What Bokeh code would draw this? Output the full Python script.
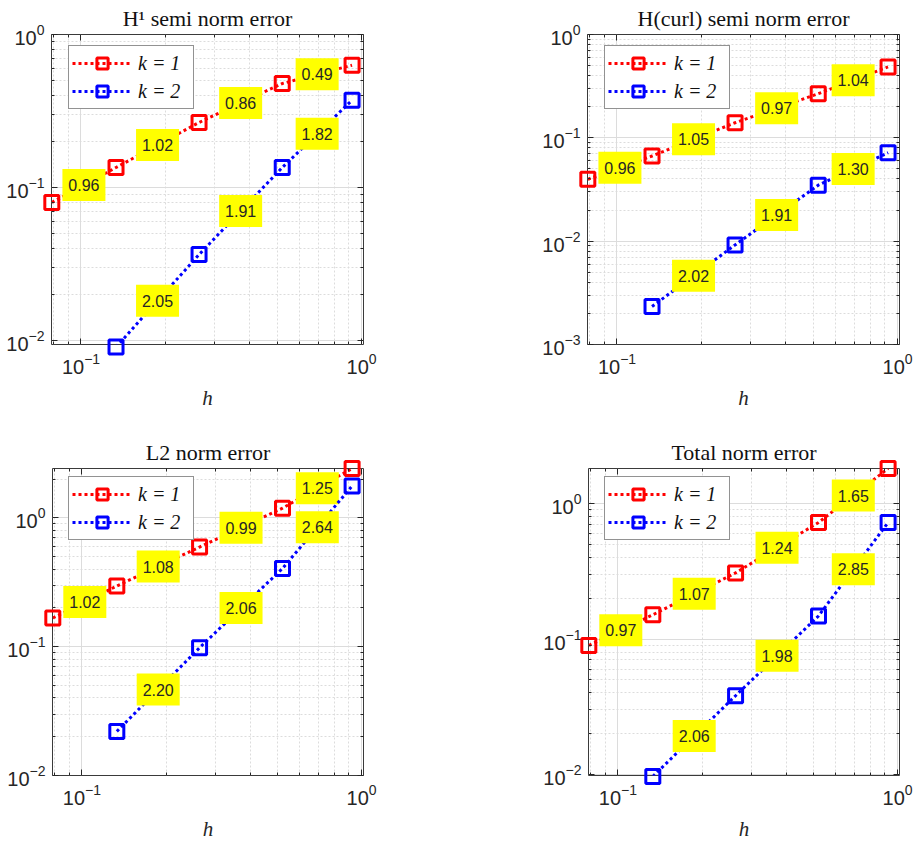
import numpy as np
from bokeh.plotting import figure
from bokeh.models import (LogAxis, FixedTicker, Legend, LegendItem, Range1d,
                          ColumnDataSource)
from bokeh.layouts import column, row
from bokeh.embed import file_html
from bokeh.resources import INLINE

# mesh sizes (shared by all four error plots)
h = [0.0787, 0.1333, 0.2635, 0.5215, 0.925]

# H^1 semi norm error
h1_k1 = [0.0798, 0.135, 0.266, 0.478, 0.63]
h1_k2 = [0.00904, 0.0364, 0.135, 0.372]
h1_rate_k1 = ["0.96", "1.02", "0.86", "0.49"]
h1_rate_k2 = ["2.05", "1.91", "1.82"]

# H(curl) semi norm error
curl_k1 = [0.0397, 0.0667, 0.140, 0.267, 0.486]
curl_k2 = [0.00233, 0.0092, 0.0348, 0.0718]
curl_rate_k1 = ["0.96", "1.05", "0.97", "1.04"]
curl_rate_k2 = ["2.02", "1.91", "1.30"]

# L2 norm error
l2_k1 = [0.167, 0.296, 0.594, 1.19, 2.42]
l2_k2 = [0.0220, 0.0983, 0.405, 1.77]
l2_rate_k1 = ["1.02", "1.08", "0.99", "1.25"]
l2_rate_k2 = ["2.20", "2.06", "2.64"]

# total norm error
tot_k1 = [0.0895, 0.151, 0.308, 0.726, 1.82]
tot_k2 = [0.00964, 0.0381, 0.148, 0.726]
tot_rate_k1 = ["0.97", "1.07", "1.24", "1.65"]
tot_rate_k2 = ["2.06", "1.98", "2.85"]

series_labels = ["k = 1", "k = 2"]

RED = "#ff0000"
BLUE = "#0000ff"
INK = "#262626"
GRID = "#dcdcdc"

X_LO, X_HI = 0.0785, 1.016


def log_ticks(lo_exp, hi_exp):
    majors = [10.0 ** e for e in range(lo_exp, hi_exp + 1)]
    minors = [m * 10.0 ** e for e in range(lo_exp - 1, hi_exp + 1) for m in range(2, 10)]
    return majors, minors


def style_axis(ax, hidden=False):
    ax.axis_line_color = None
    ax.major_tick_in = 6
    ax.major_tick_out = 0
    ax.minor_tick_in = 3
    ax.minor_tick_out = 0
    ax.major_tick_line_color = INK
    ax.minor_tick_line_color = INK
    ax.major_label_text_font = "Liberation Sans"
    ax.major_label_text_color = INK
    if hidden:
        ax.major_label_text_font_size = "1px"
        ax.major_label_text_alpha = 0
        ax.major_label_standoff = 0
    else:
        ax.major_label_text_font_size = "20px"


def make_panel(title, k1, k2, r1, r2, y_lo, y_hi, y_exps, W, H, bl, br, bt, bb, leg_dx, leg_dy):
    p = figure(width=W, height=H, x_axis_type="log", y_axis_type="log",
               x_range=Range1d(X_LO, X_HI), y_range=Range1d(y_lo, y_hi),
               output_backend="svg", toolbar_location=None,
               min_border_left=bl, min_border_right=br,
               min_border_top=bt, min_border_bottom=bb)
    p.background_fill_color = "white"
    p.border_fill_color = "white"
    p.outline_line_color = "#3a3a3a"
    p.outline_line_width = 1

    xmaj, xmin = [0.1, 1.0], [0.08, 0.09] + [m / 10 for m in range(2, 10)]
    ymaj, ymin = log_ticks(*y_exps)
    xt = FixedTicker(ticks=xmaj, minor_ticks=xmin)
    yt = FixedTicker(ticks=ymaj, minor_ticks=ymin)
    p.xaxis.ticker = xt
    p.yaxis.ticker = yt
    style_axis(p.xaxis[0])
    style_axis(p.yaxis[0])
    p.xaxis.major_label_standoff = 8
    p.yaxis.major_label_standoff = 7
    p.xaxis.axis_label = "h"
    p.xaxis.axis_label_text_font = "Liberation Serif"
    p.xaxis.axis_label_text_font_style = "italic"
    p.xaxis.axis_label_text_font_size = "21px"
    p.xaxis.axis_label_text_color = INK
    p.xaxis.axis_label_standoff = 9

    top = LogAxis(ticker=xt)
    right = LogAxis(ticker=yt)
    style_axis(top, hidden=True)
    style_axis(right, hidden=True)
    p.add_layout(top, "above")
    p.add_layout(right, "right")

    for g in (p.xgrid[0], p.ygrid[0]):
        g.grid_line_color = GRID
        g.grid_line_width = 1
        g.minor_grid_line_color = GRID
        g.minor_grid_line_dash = "2 2"

    p.title.text = title
    p.title.align = "center"
    p.title.text_font = "Liberation Serif"
    p.title.text_font_style = "normal"
    p.title.text_font_size = "22px"
    p.title.text_color = "#111111"
    p.title.standoff = 7

    items = []
    for xs, ys, rates, color, lab in ((h, k1, r1, RED, series_labels[0]),
                                      (h[1:], k2, r2, BLUE, series_labels[1])):
        ln = p.line(xs, ys, line_color=color, line_width=3, line_dash="3 3")
        mk = p.scatter(xs, ys, marker="square", size=14, line_color=color,
                       line_width=3, fill_color=None, level="overlay")
        items.append(LegendItem(label=lab, renderers=[ln, mk]))
        xa, ya = np.array(xs), np.array(ys)
        src = ColumnDataSource(dict(x=np.sqrt(xa[:-1] * xa[1:]),
                                    y=np.sqrt(ya[:-1] * ya[1:]),
                                    t=rates))
        p.rect("x", "y", width=43, height=32, width_units="screen",
               height_units="screen", fill_color="#ffff00", line_color=None,
               source=src)
        p.text("x", "y", text="t", text_align="center", text_baseline="middle",
               text_font_size="16px", text_color=INK,
               text_font={"value": "Liberation Sans"}, source=src)

    frame_h = H - bt - bb
    leg_h = 2 * 3 + 2 * 28 - 3
    legend = Legend(items=items, location=(leg_dx, frame_h - leg_dy - leg_h),
                    glyph_width=60, glyph_height=28, padding=3, spacing=-3,
                    label_standoff=6, label_width=52, label_height=25, margin=0,
                    border_line_color=INK, border_line_width=1,
                    background_fill_color="white", background_fill_alpha=1,
                    label_text_font="Liberation Serif",
                    label_text_font_style="italic",
                    label_text_font_size="20px", label_text_color="#111111")
    p.add_layout(legend)
    return p


p1 = make_panel("H¹ semi norm error", h1_k1, h1_k2, h1_rate_k1, h1_rate_k2,
                0.0094, 1.0, (-2, 0), 460, 430, 51, 97, 33, 86, 17, 17)
p2 = make_panel("H(curl) semi norm error", curl_k1, curl_k2, curl_rate_k1, curl_rate_k2,
                0.001, 1.0, (-3, 0), 460, 430, 127, 21, 33, 86, 17, 17)
p3 = make_panel("L2 norm error", l2_k1, l2_k2, l2_rate_k1, l2_rate_k2,
                0.01, 2.42, (-2, 0), 460, 413, 52, 97, 38, 65, 16, 16)
p4 = make_panel("Total norm error", tot_k1, tot_k2, tot_rate_k1, tot_rate_k2,
                0.0098, 1.82, (-2, 0), 460, 413, 128, 21, 38, 65, 16, 16)

layout = column(row(p1, p2), row(p3, p4))
open("out.html", "w").write(file_html(layout, INLINE))
